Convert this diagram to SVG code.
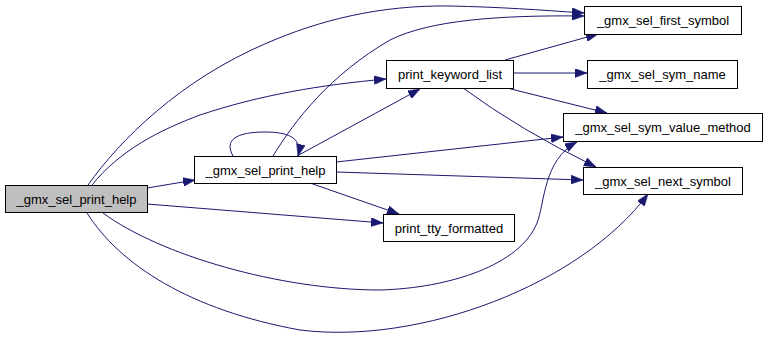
<svg xmlns="http://www.w3.org/2000/svg" width="768" height="341" viewBox="0 0 768 341">
  <style>
    .node rect { fill: #ffffff; stroke: #000000; stroke-width: 1; }
    .node.root rect { fill: #bfbfbf; }
    .node text { font-family: "Liberation Sans", Arial, sans-serif; font-size: 13px; fill: #000000; text-anchor: middle; }
    .edges path { fill: none; stroke: #191970; stroke-width: 1; marker-end: url(#arrow); }
  </style>
  <defs>
    <marker id="arrow" markerUnits="userSpaceOnUse" markerWidth="12" markerHeight="9" refX="12" refY="4.5" orient="auto">
      <path d="M0,0 L12,4.5 L0,9 z" fill="#191970" stroke="#191970" stroke-width="0.5"/>
    </marker>
  </defs>
  <rect width="768" height="341" fill="#ffffff"/>

  <g class="edges" id="edges">
    <!-- from the root node -->
    <path d="M147,188 L195,180"/>
    <path d="M92,185 C120,150 160,130 200,115 C260,95 320,85 386,79"/>
    <path d="M88,185 C120,140 180,80 267,43 C320,20 380,5 450,6 C500,7 540,10 584,13"/>
    <path d="M147,204 L383,223"/>
    <path d="M103,213 C160,255 280,290 380,290 C450,288 520,265 537,223 C545,203 543,160 577,142"/>
    <path d="M87,213 C120,265 190,310 300,330 C420,345 580,285 648,194"/>
    <!-- from _gmx_sel_print_help -->
    <path d="M233,156 C224,140 236,132 265,132 C292,132 302,140 298,156"/>
    <path d="M273,156 C295,120 330,75 390,40 C430,20 500,15 584,16"/>
    <path d="M297,156 L420,89"/>
    <path d="M336,162 L563,137"/>
    <path d="M336,172 L583,180"/>
    <path d="M310,183 L399,214"/>
    <!-- from print_keyword_list -->
    <path d="M505,60 L598,34"/>
    <path d="M513,73 L587,73"/>
    <path d="M507,88 L607,113"/>
    <path d="M463,88 Q520,130 596,167"/>
  </g>

  <g class="node root" id="node_root_print_help">
    <rect x="5.5" y="185.5" width="142" height="27"/>
    <text x="76.5" y="203.5">_gmx_sel_print_help</text>
  </g>
  <g class="node" id="node_print_help">
    <rect x="194.5" y="156.5" width="142" height="27"/>
    <text x="265.5" y="174.5">_gmx_sel_print_help</text>
  </g>
  <g class="node" id="node_print_keyword_list">
    <rect x="386.5" y="60.5" width="127" height="28"/>
    <text x="450" y="79">print_keyword_list</text>
  </g>
  <g class="node" id="node_first_symbol">
    <rect x="584.5" y="6.5" width="157" height="28"/>
    <text x="663" y="25">_gmx_sel_first_symbol</text>
  </g>
  <g class="node" id="node_sym_name">
    <rect x="587.5" y="60.5" width="150" height="28"/>
    <text x="662.5" y="79">_gmx_sel_sym_name</text>
  </g>
  <g class="node" id="node_sym_value_method">
    <rect x="563.5" y="113.5" width="199" height="28"/>
    <text x="663" y="132">_gmx_sel_sym_value_method</text>
  </g>
  <g class="node" id="node_next_symbol">
    <rect x="583.5" y="167.5" width="159" height="27"/>
    <text x="663" y="185.5">_gmx_sel_next_symbol</text>
  </g>
  <g class="node" id="node_print_tty_formatted">
    <rect x="383.5" y="214.5" width="131" height="27"/>
    <text x="449" y="232.5">print_tty_formatted</text>
  </g>
</svg>
